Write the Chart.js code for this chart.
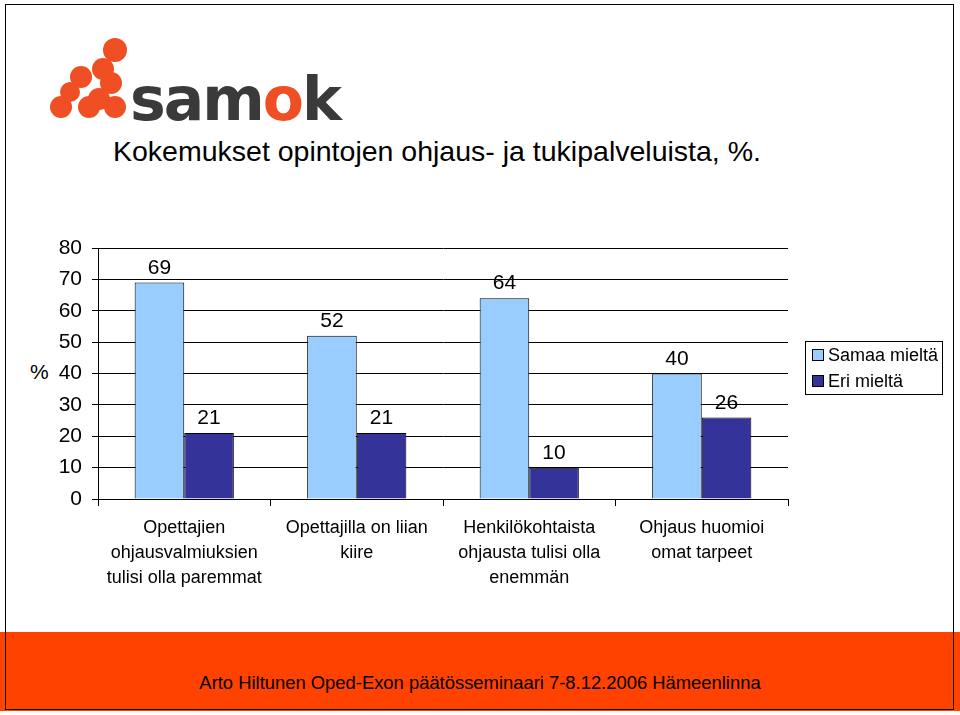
<!DOCTYPE html>
<html>
<head>
<meta charset="utf-8">
<script src="https://cdn.jsdelivr.net/npm/chart.js@4"></script>
<style>
body { margin: 0; background: #fff; font-family: "Liberation Sans", Arial, sans-serif; }
#wrap { position: relative; width: 960px; height: 715px; overflow: hidden; }
#frame { position: absolute; left: 5px; top: 4px; width: 949px; height: 706px; border: 1px solid #000; box-sizing: border-box; }
#chart { position: absolute; left: 0; top: 0; }
.dot { position: absolute; border-radius: 50%; background: #f04e23; }
#logo { position: absolute; left: 130px; top: 64px; font: bold 60px "DejaVu Sans", sans-serif; color: #3a3a3a; letter-spacing: -2px; }
#title { position: absolute; left: 113px; top: 135px; font-size: 28.5px; color: #000; }
#pct { position: absolute; left: 30px; top: 360px; font-size: 21px; }
#legend { position: absolute; left: 805px; top: 341px; width: 138px; height: 54px; border: 1px solid #000; box-sizing: border-box; font-size: 18px; }
#legend div { display: flex; align-items: center; height: 26px; padding-left: 6px; }
#legend span { width: 10px; height: 10px; border: 1px solid #000; margin-right: 4px; }
#footer { position: absolute; left: 0; top: 632px; width: 960px; height: 79px; background: #ff4200; }
#foottext { position: absolute; left: 0; width: 960px; top: 672px; text-align: center; font-size: 18.4px; color: #000; }
</style>
</head>
<body>
<div id="wrap">
  <div id="footer"></div>
  <div id="foottext">Arto Hiltunen Oped-Exon päätösseminaari 7-8.12.2006 Hämeenlinna</div>
  <div class="dot" style="left:103px;top:38px;width:24px;height:24px"></div>
  <div class="dot" style="left:92px;top:58px;width:22px;height:22px"></div>
  <div class="dot" style="left:70px;top:66px;width:22px;height:22px"></div>
  <div class="dot" style="left:100px;top:72px;width:22px;height:22px"></div>
  <div class="dot" style="left:60px;top:82px;width:20px;height:20px"></div>
  <div class="dot" style="left:88px;top:88px;width:22px;height:22px"></div>
  <div class="dot" style="left:50px;top:96px;width:22px;height:22px"></div>
  <div class="dot" style="left:78px;top:96px;width:22px;height:22px"></div>
  <div class="dot" style="left:104px;top:96px;width:22px;height:22px"></div>
  <div id="logo">sam<span style="color:#f04e23">o</span>k</div>
  <div id="title">Kokemukset opintojen ohjaus- ja tukipalveluista, %.</div>
  <div id="pct">%</div>
  <canvas id="chart" width="960" height="715"></canvas>
  <div id="legend">
    <div><span style="background:#99ccff"></span>Samaa mieltä</div>
    <div><span style="background:#333399"></span>Eri mieltä</div>
  </div>
  <div id="frame"></div>
</div>
<script>
const categories = [
    ['Opettajien', 'ohjausvalmiuksien', 'tulisi olla paremmat'],
    ['Opettajilla on liian', 'kiire'],
    ['Henkilökohtaista', 'ohjausta tulisi olla', 'enemmän'],
    ['Ohjaus huomioi', 'omat tarpeet']
];
const samaaMielta = [69, 52, 64, 40];
const eriMielta = [21, 21, 10, 26];

// value labels above bars
const valueLabels = {
    id: 'valueLabels',
    afterDatasetsDraw(chart) {
        const c = chart.ctx;
        c.save();
        c.font = '21px "Liberation Sans", Arial';
        c.fillStyle = '#000';
        c.textAlign = 'center';
        c.textBaseline = 'bottom';
        chart.data.datasets.forEach((ds, i) => {
            chart.getDatasetMeta(i).data.forEach((bar, j) => {
                c.fillText(ds.data[j], bar.x, bar.y - 4);
            });
        });
        c.restore();
    }
};

new Chart(document.getElementById('chart').getContext('2d'), {
    type: 'bar',
    data: {
        labels: categories,
        datasets: [
            { label: 'Samaa mieltä', data: samaaMielta, backgroundColor: '#99ccff', borderColor: '#000', borderWidth: 1 },
            { label: 'Eri mieltä', data: eriMielta, backgroundColor: '#333399', borderColor: '#000', borderWidth: 1 }
        ]
    },
    options: {
        responsive: false,
        animation: false,
        layout: { padding: { left: 0, top: 248, right: 172, bottom: 106 } },
        plugins: { legend: { display: false }, tooltip: { enabled: false } },
        datasets: { bar: { categoryPercentage: 0.575, barPercentage: 1 } },
        scales: {
            x: {
                afterFit: s => { s.height = 110; },
                grid: { drawOnChartArea: false, color: '#000', tickLength: 7 },
                border: { color: '#000' },
                ticks: { color: '#000', font: { size: 18, family: '"Liberation Sans", Arial', lineHeight: 1.38 }, maxRotation: 0, padding: 10 }
            },
            y: {
                min: 0, max: 80,
                afterFit: s => { s.width = 98; },
                grid: { color: '#000', tickLength: 6 },
                border: { color: '#000' },
                ticks: { stepSize: 10, color: '#000', font: { size: 21, family: '"Liberation Sans", Arial' }, padding: 10 }
            }
        }
    },
    plugins: [valueLabels]
});
</script>
</body>
</html>
